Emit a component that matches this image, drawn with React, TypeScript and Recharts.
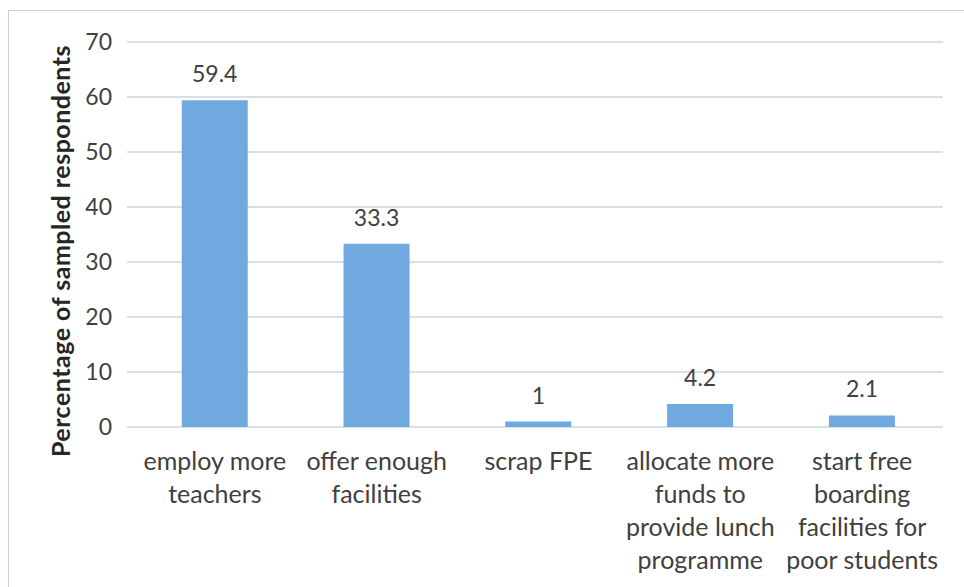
import React from "react";
import {
	Bar,
	BarChart,
	CartesianGrid,
	LabelList,
	XAxis,
	YAxis,
} from "recharts";

// Suggested measures, share of sampled respondents (%)
const categories = [
	"employ more\nteachers",
	"offer enough\nfacilities",
	"scrap FPE",
	"allocate more\nfunds to\nprovide lunch\nprogramme",
	"start free\nboarding\nfacilities for\npoor students",
];
const percentages = [59.4, 33.3, 1, 4.2, 2.1];
const yTicks = [0, 10, 20, 30, 40, 50, 60, 70];
const edgeTicks = [0, 1, 2, 3, 4, 5];

const data = categories.map((category, i) => ({
	category,
	value: percentages[i],
}));

const FONT = "Lato, 'Open Sans', sans-serif";
const TEXT = "#404040";
const GRID = "#c6d8dc";
const BAR = "#70a8e0";

function CategoryTick({ x, y, payload }: any) {
	const lines = String(payload.value).split("\n");
	return (
		<text
			x={x}
			y={y}
			textAnchor="middle"
			fontFamily={FONT}
			fontSize={25}
			fill={TEXT}
		>
			{lines.map((line, i) => (
				<tspan key={i} x={x} dy={i === 0 ? 43 : 33}>
					{line}
				</tspan>
			))}
		</text>
	);
}

function AxisTitle() {
	return (
		<text
			x={60}
			y={251}
			transform="rotate(-90, 60, 251)"
			textAnchor="middle"
			dominantBaseline="central"
			fontFamily={FONT}
			fontWeight="bold"
			fontSize={25}
			letterSpacing={0.5}
			fill="#262626"
		>
			Percentage of sampled respondents
		</text>
	);
}

export default function App() {
	return (
		<div
			style={{
				position: "absolute",
				left: 0,
				top: 0,
				width: 964,
				height: 587,
				background: "#fff",
				overflow: "hidden",
			}}
		>
			<div
				style={{
					position: "absolute",
					left: 8,
					top: 10,
					width: 1000,
					height: 1000,
					border: "1.5px solid #c9d1cd",
				}}
			/>
			<div style={{ position: "absolute", left: 0, top: 0 }}>
				<BarChart
					width={964}
					height={587}
					data={data}
					margin={{ top: 42, right: 21, bottom: 0, left: 0 }}
					barCategoryGap="29.5%"
				>
					<CartesianGrid
						xAxisId="cat"
						vertical={false}
						stroke={GRID}
						strokeWidth={1.5}
					/>
					<XAxis
						xAxisId="edges"
						type="number"
						domain={[0, 5]}
						ticks={edgeTicks}
						allowDataOverflow
						height={0}
						tick={false}
						tickSize={8}
						stroke={GRID}
						strokeWidth={1.5}
					/>
					<XAxis
						xAxisId="cat"
						dataKey="category"
						height={160}
						interval={0}
						axisLine={false}
						tickLine={false}
						tickSize={0}
						tickMargin={0}
						tick={<CategoryTick />}
					/>
					<YAxis
						width={134}
						domain={[0, 70]}
						ticks={yTicks}
						axisLine={false}
						tickSize={7}
						tickMargin={15}
						tickLine={{ stroke: GRID, strokeWidth: 1.5 }}
						tick={{ fill: TEXT, fontSize: 23, fontFamily: FONT }}
						label={<AxisTitle />}
					/>
					<Bar
						xAxisId="cat"
						dataKey="value"
						fill={BAR}
						isAnimationActive={false}
					>
						<LabelList
							dataKey="value"
							position="top"
							offset={18}
							fill={TEXT}
							fontSize={23}
							fontFamily={FONT}
						/>
					</Bar>
				</BarChart>
			</div>
		</div>
	);
}
